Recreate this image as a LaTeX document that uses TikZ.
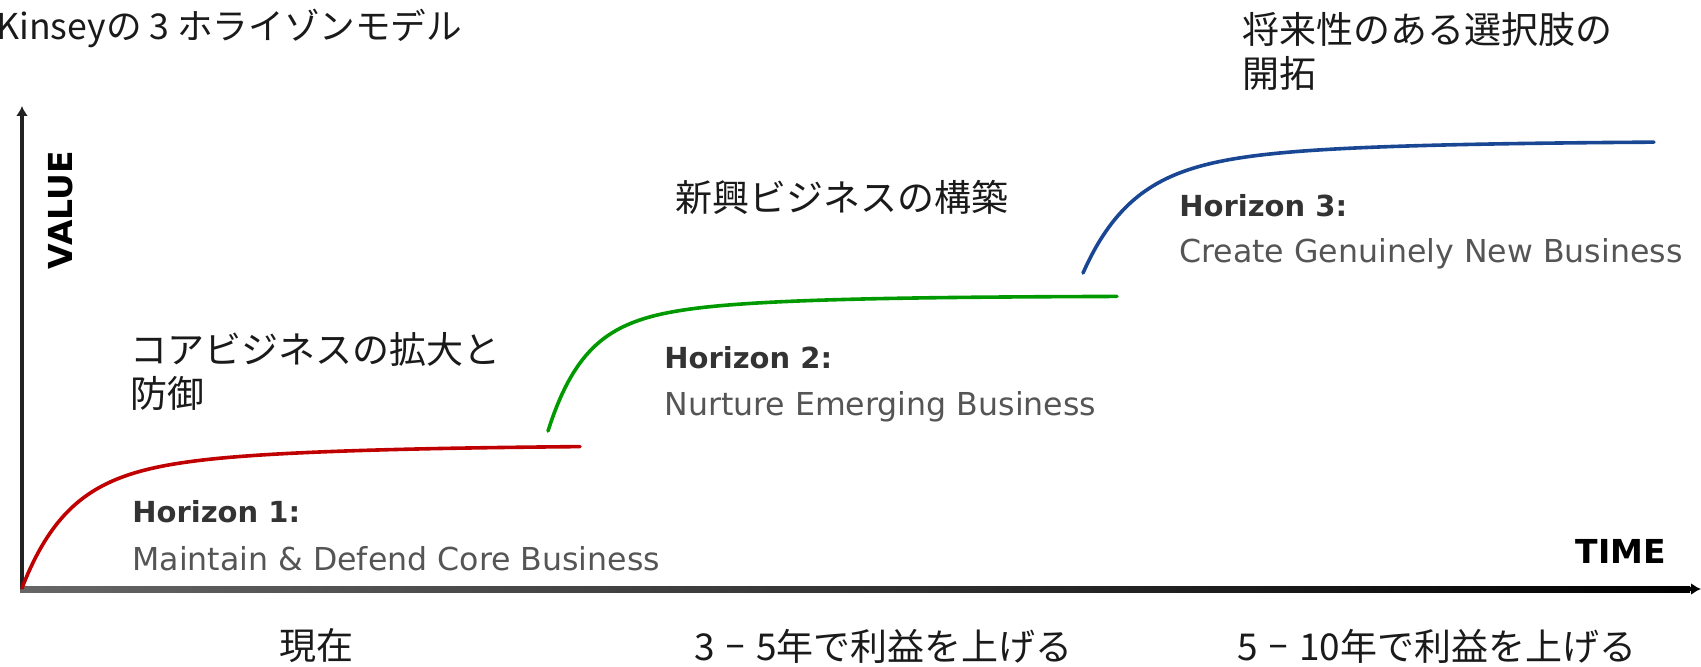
\documentclass[tikz,border=0pt]{standalone}
\usepackage{fontspec}
\setmainfont{DejaVu Sans}
\newfontfamily\jp{Noto Sans CJK JP}
\usetikzlibrary{arrows.meta}
\definecolor{hred}{HTML}{C00000}
\definecolor{hgreen}{HTML}{009A00}
\definecolor{hblue}{HTML}{1A4793}
\definecolor{hdark}{HTML}{333333}
\definecolor{hgray}{HTML}{555555}
\definecolor{jpink}{HTML}{1A1A1A}
\definecolor{axisdark}{HTML}{222222}
\newcommand{\shortdash}{\hspace{0.26em}\scalebox{0.6}[1]{－}\hspace{0.26em}}
\begin{document}
\begin{tikzpicture}[x=0.5pt,y=-0.5pt,
  jptext/.style={font=\jp\fontsize{18.5}{22}\selectfont, inner sep=0pt, anchor=west, align=left, text=jpink},
  hzhead/.style={font=\bfseries\fontsize{14.5}{17}\selectfont, text=hdark, inner sep=0pt, anchor=base west},
  hzdesc/.style={font=\fontsize{15.8}{19}\selectfont, text=hgray, inner sep=0pt, anchor=base west},
  curve/.style={line width=1.8pt, line cap=round},
  axislabel/.style={font=\bfseries\fontsize{16.5}{19}\selectfont, inner sep=0pt, text=black},
  axisline/.style={line width=2pt, draw=axisdark}
]
\useasboundingbox (0,0) rectangle (1701,667);
% axes
\coordinate (O) at (22,589);
\coordinate (ytop) at (22,106);
\coordinate (xend) at (1701,589);
\coordinate (xtip) at (1670,589);
\shade[left color=black!60, right color=black] (20,586) rectangle (1690,592);
\draw[line width=2pt, -{Latex[length=5pt,width=6pt]}] (xtip) -- (xend);
\draw[axisline, -{Latex[length=5pt,width=6pt]}] (O) -- (ytop);
% axis labels
\node[axislabel, rotate=90] (value) at (61,210) {VALUE};
\node[axislabel] (time) at (1621,551) {TIME};
% curves
\draw[curve, hred] plot[domain=0:558, samples=200, variable=\t]
  ({22+\t}, {588-143*(0.75*(1-exp(-\t/45))+0.25*(1-exp(-\t/180)))});
\draw[curve, hgreen] plot[domain=0:569, samples=200, variable=\t]
  ({548+\t}, {431-135*(0.75*(1-exp(-\t/35))+0.25*(1-exp(-\t/130)))});
\draw[curve, hblue] plot[domain=0:571, samples=200, variable=\t]
  ({1083+\t}, {273-132*(0.75*(1-exp(-\t/48))+0.25*(1-exp(-\t/170)))});
% horizon texts
\node[hzhead] (h1) at (132,523) {Horizon 1:};
\node[hzdesc] (d1) at (132,570) {Maintain \& Defend Core Business};
\node[hzhead] (h2) at (664,369) {Horizon 2:};
\node[hzdesc] (d2) at (664,416) {Nurture Emerging Business};
\node[hzhead] (h3) at (1179,217) {Horizon 3:};
\node[hzdesc] (d3) at (1179,263) {Create Genuinely New Business};
% japanese texts
\node[jptext, font=\jp\fontsize{17.8}{22}\selectfont] (title) at (-4,28) {Kinseyの 3 ホライゾンモデル};
\node[jptext] (j3) at (1242,51) {将来性のある選択肢の\\開拓};
\node[jptext] (j2) at (675,197) {新興ビジネスの構築};
\node[jptext] (j1) at (130,371) {コアビジネスの拡大と\\防御};
\node[jptext] (b1) at (279,646) {現在};
\node[jptext] (b2) at (694,646) {3\shortdash 5年で利益を上げる};
\node[jptext] (b3) at (1237,646) {5\shortdash 10年で利益を上げる};
\end{tikzpicture}
\end{document}
